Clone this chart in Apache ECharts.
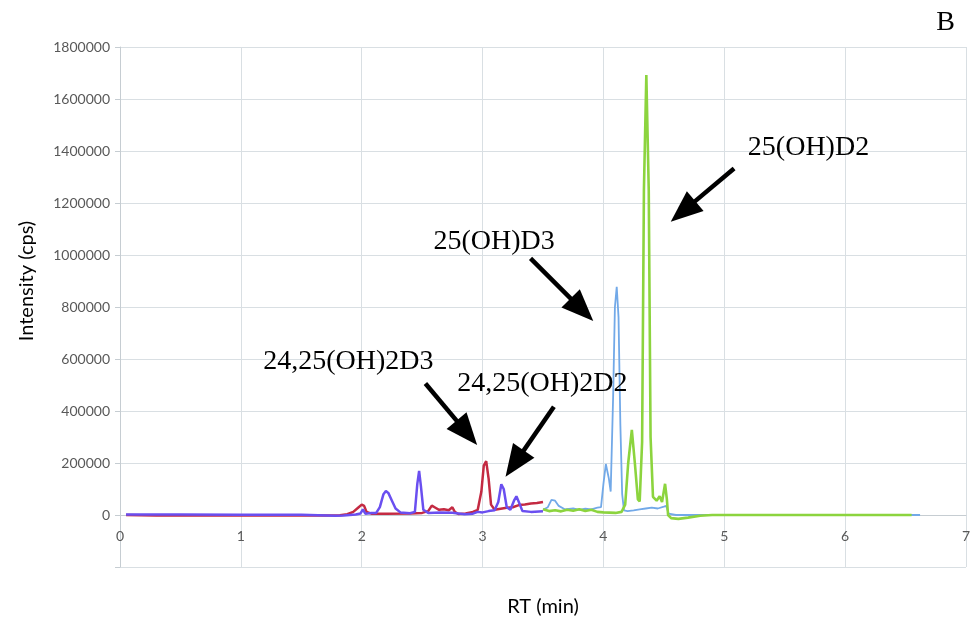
<!DOCTYPE html>
<html><head><meta charset="utf-8">
<script src="https://cdn.jsdelivr.net/npm/echarts@6/dist/echarts.min.js"></script>
<style>html,body{margin:0;padding:0;background:#fff}#c{width:976px;height:630px}</style>
</head><body><div id="c"></div>
<script>
// x-axis ticks (RT, min) and y-axis ticks (intensity, cps)
const xTicks = [0, 1, 2, 3, 4, 5, 6, 7];
const yTicks = [-200000, 0, 200000, 400000, 600000, 800000, 1000000, 1200000, 1400000, 1600000, 1800000];

// [RT, intensity]
const red24_25OH2D3 = [
  [0.05,0],[0.3,-2000],[0.8,-2000],[1.3,-2000],[1.7,-2000],[1.82,-1000],[1.88,3000],[1.93,12000],
  [1.97,28000],[2.00,40000],[2.02,35000],[2.04,12000],[2.08,5000],[2.2,5000],[2.4,6000],[2.5,8000],
  [2.55,15000],[2.58,36000],[2.61,28000],[2.64,20000],[2.68,22000],[2.72,18000],[2.75,30000],[2.77,12000],
  [2.8,4000],[2.86,6000],[2.92,12000],[2.96,20000],[2.99,90000],[3.01,190000],[3.03,207000],[3.05,140000],
  [3.07,40000],[3.10,20000],[3.15,24000],[3.2,28000],[3.25,30000],[3.3,38000],[3.35,40000],[3.4,44000],
  [3.45,46000],[3.5,50000]
];
const purple24_25OH2D2 = [
  [0.05,2000],[0.5,2000],[1.0,1000],[1.5,1000],[1.78,-3000],[1.85,-2000],[1.95,2000],[1.99,6000],
  [2.01,22000],[2.03,5000],[2.08,8000],[2.12,8000],[2.15,30000],[2.18,80000],[2.20,92000],[2.22,85000],
  [2.25,55000],[2.28,25000],[2.32,10000],[2.40,7000],[2.44,12000],[2.46,120000],[2.475,170000],[2.49,110000],
  [2.51,20000],[2.55,8000],[2.65,10000],[2.75,9000],[2.85,3000],[2.92,5000],[2.96,12000],[3.0,10000],
  [3.05,15000],[3.1,18000],[3.13,50000],[3.155,118000],[3.175,100000],[3.2,30000],[3.23,20000],[3.26,55000],
  [3.28,72000],[3.30,50000],[3.33,15000],[3.4,12000],[3.5,14000]
];
const blue25OHD3 = [
  [3.5,20000],[3.54,30000],[3.57,58000],[3.60,55000],[3.63,35000],[3.68,22000],[3.75,25000],[3.8,20000],
  [3.85,24000],[3.9,22000],[3.95,28000],[3.98,30000],[4.0,120000],[4.02,196000],[4.045,140000],[4.06,90000],
  [4.08,450000],[4.095,800000],[4.11,878000],[4.125,760000],[4.14,350000],[4.155,80000],[4.17,18000],[4.2,15000],
  [4.25,18000],[4.3,22000],[4.35,25000],[4.4,28000],[4.45,25000],[4.5,32000],[4.52,35000],[4.54,5000],
  [4.6,0],[5.0,0],[6.0,0],[6.62,0]
];
const green25OHD2 = [
  [3.5,22000],[3.55,15000],[3.6,18000],[3.65,14000],[3.7,20000],[3.75,16000],[3.8,22000],[3.85,15000],
  [3.9,20000],[3.95,12000],[4.0,10000],[4.05,9000],[4.1,8000],[4.15,12000],[4.18,40000],[4.205,200000],
  [4.235,327000],[4.26,200000],[4.285,60000],[4.30,52000],[4.32,280000],[4.335,1250000],[4.355,1692000],
  [4.375,1250000],[4.39,300000],[4.41,70000],[4.44,55000],[4.465,72000],[4.485,50000],[4.51,120000],
  [4.525,60000],[4.535,0],[4.56,-12000],[4.62,-15000],[4.7,-10000],[4.8,-3000],[4.9,0],[5.5,0],[6.0,0],[6.55,0]
];

// annotation labels: [text, RT, intensity] (left edge, vertical middle)
const labelTexts = ['25(OH)D2', '25(OH)D3', '24,25(OH)2D3', '24,25(OH)2D2'];
const labelPos = [[5.195,1413000],[2.593,1052000],[1.185,588000],[2.79,504000]];
// arrows: [tailRT, tailI, tipRT, tipI]
const arrows = [
  [5.081,1333000,4.557,1128000],
  [3.397,987000,3.916,746000],
  [2.527,506000,2.955,269000],
  [3.590,416000,3.190,147000]
];

const gridColor = '#d9dfe3';
const chart = echarts.init(document.getElementById('c'), null, {renderer: 'canvas'});
const mkSeries = (name, data, color, width) => ({
  name, type: 'line', data, showSymbol: false, symbol: 'none', animation: false,
  lineStyle: {color, width}, itemStyle: {color}
});
chart.setOption({
  animation: false,
  backgroundColor: '#fff',
  grid: {left: 120, right: 10, top: 47, bottom: 63},
  xAxis: {
    type: 'value', min: xTicks[0], max: xTicks[xTicks.length - 1], interval: 1,
    axisLine: {show: true, onZero: true, lineStyle: {color: '#c6cdd2', width: 1}},
    axisTick: {show: false},
    axisLabel: {color: '#595959', fontSize: 14, fontFamily: 'Lato', margin: -38},
    splitLine: {show: true, lineStyle: {color: gridColor, width: 1}}
  },
  yAxis: {
    type: 'value', min: yTicks[0], max: yTicks[yTicks.length - 1], interval: 200000,
    axisLine: {show: true, lineStyle: {color: '#c6cdd2', width: 1}},
    axisTick: {show: true, length: 5, lineStyle: {color: '#c6cdd2'}},
    axisLabel: {color: '#595959', fontSize: 14, fontFamily: 'Lato', margin: 10,
      formatter: v => (v < 0 ? '' : String(v))},
    splitLine: {show: true, lineStyle: {color: gridColor, width: 1}}
  },
  series: [
    mkSeries('24,25(OH)2D3', red24_25OH2D3, '#c42a42', 2.5),
    mkSeries('24,25(OH)2D2', purple24_25OH2D2, '#6a4ff0', 2.5),
    mkSeries('25(OH)D3', blue25OHD3, '#72a9e8', 1.8),
    mkSeries('25(OH)D2', green25OHD2, '#8cd43e', 2.6)
  ]
});

const px = (x, y) => chart.convertToPixel({gridIndex: 0}, [x, y]);
const graphics = [];
labelTexts.forEach((t, i) => {
  const p = px(labelPos[i][0], labelPos[i][1]);
  graphics.push({type: 'text', x: p[0], y: p[1], z: 100,
    style: {text: t, fill: '#000', font: '28px "Liberation Serif"', textAlign: 'left', textVerticalAlign: 'middle'}});
});
arrows.forEach(a => {
  const T = px(a[0], a[1]), P = px(a[2], a[3]);
  const dx = P[0] - T[0], dy = P[1] - T[1], len = Math.hypot(dx, dy);
  const ux = dx / len, uy = dy / len, nx = -uy, ny = ux;
  const L = 32, W = 13;
  const B = [P[0] - ux * L, P[1] - uy * L];
  graphics.push({type: 'line', z: 100, shape: {x1: T[0], y1: T[1], x2: B[0] + ux * 2, y2: B[1] + uy * 2},
    style: {stroke: '#000', lineWidth: 4.5}});
  graphics.push({type: 'polygon', z: 100, shape: {points: [P, [B[0] + nx * W, B[1] + ny * W], [B[0] - nx * W, B[1] - ny * W]]},
    style: {fill: '#000'}});
});
graphics.push({type: 'text', x: 945.5, y: 22.5, z: 100,
  style: {text: 'B', fill: '#000', font: '28px "Liberation Serif"', textAlign: 'center', textVerticalAlign: 'middle'}});
const yMid = px(0, 900000)[1];
graphics.push({type: 'text', x: 27, y: yMid, rotation: Math.PI / 2, z: 100,
  style: {text: 'Intensity (cps)', fill: '#000', font: '20px Lato', textAlign: 'center', textVerticalAlign: 'middle'}});
graphics.push({type: 'text', x: px(3.5, 0)[0], y: 607, z: 100,
  style: {text: 'RT (min)', fill: '#000', font: '20px Lato', textAlign: 'center', textVerticalAlign: 'middle'}});
chart.setOption({graphic: graphics});
</script></body></html>
